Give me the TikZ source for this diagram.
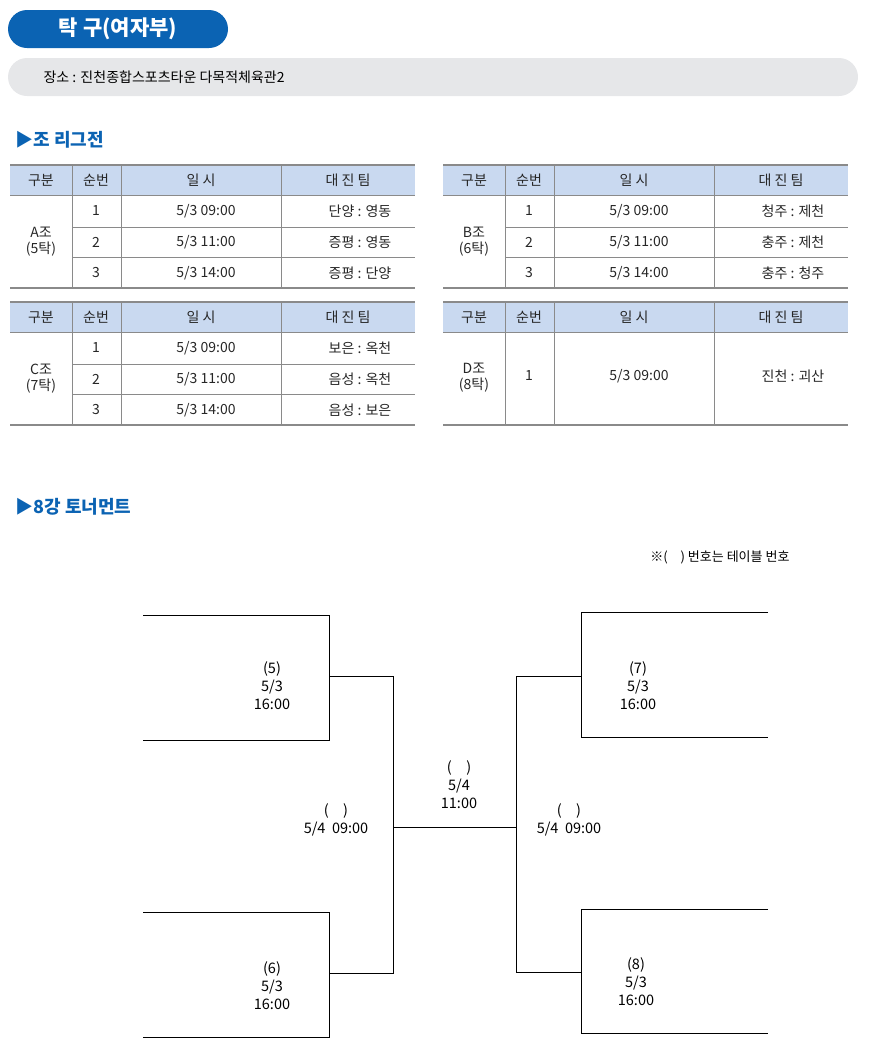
\documentclass[tikz,border=0pt]{standalone}
\usepackage{fontspec}
\setmainfont{Noto Sans CJK KR}
\definecolor{hblue}{HTML}{0B63B3}
\definecolor{hgrey}{HTML}{E6E7E9}
\definecolor{thead}{HTML}{C9D9F0}
\definecolor{tline}{HTML}{8A8A8A}
\begin{document}
\begin{tikzpicture}[x=1pt,y=-1pt,
  cell/.style={font=\fontsize{14}{16}\selectfont,text=black!85,align=center,inner sep=0},
  thin/.style={draw=tline,line width=0.6pt},
  thick/.style={draw=tline,line width=1.6pt},
  br/.style={draw=black,line width=0.8pt},
  lab/.style={font=\fontsize{14.5}{18}\selectfont,align=center,inner sep=0}]
\useasboundingbox (0,0) rectangle (872,1050);
\fill[hblue,rounded corners=19pt] (8,10) rectangle (228,48);
\node[font=\bfseries\fontsize{21}{24}\selectfont,text=white] (title) at (118,29) {탁 구(여자부)};
\fill[hgrey,rounded corners=19pt] (8,58) rectangle (858,96);
\node[anchor=west,font=\fontsize{14}{16}\selectfont] (place) at (40,77) {장소 : 진천종합스포츠타운 다목적체육관2};
\node[anchor=west,font=\bfseries\fontsize{18}{20}\selectfont,text=hblue] (h1) at (12,140) {▶조 리그전};
\node[anchor=west,font=\bfseries\fontsize{18}{20}\selectfont,text=hblue] (h2) at (12,507) {▶8강 토너먼트};
% table macro
\newcommand{\tbl}[7]{% x0, y0(header top), group, r1, r2, r3, cols... uses fixed widths
  \begin{scope}[shift={(#1,#2)}]
  \fill[thead] (0,0) rectangle (405,30);
  \draw[thick] (0,0) -- (405,0);
  \draw[thick] (0,123) -- (405,123);
  \draw[thin] (0,30) -- (405,30);
  \draw[thin] (62,62) -- (405,62) (62,92) -- (405,92);
  \draw[thin] (62,0) -- (62,123) (111,0) -- (111,123) (271,0) -- (271,123);
  \node[cell] at (31,15) {구분};
  \node[cell] at (86,15) {순번};
  \node[cell] at (191,15) {일 시};
  \node[cell] at (338,15) {대 진 팀};
  \node[cell] at (31,77) {#3};
  \node[cell] at (86,46) {1}; \node[cell] at (86,77) {2}; \node[cell] at (86,108) {3};
  \node[cell] at (196,46) {5/3 09:00}; \node[cell] at (196,77) {5/3 11:00}; \node[cell] at (196,108) {5/3 14:00};
  \node[cell] at (350,46) {#4}; \node[cell] at (350,77) {#5}; \node[cell] at (350,108) {#6};
  \end{scope}}
\tbl{10}{165}{A조\\(5탁)}{단양 : 영동}{증평 : 영동}{증평 : 단양}{}
\tbl{443}{165}{B조\\(6탁)}{청주 : 제천}{충주 : 제천}{충주 : 청주}{}
\tbl{10}{302}{C조\\(7탁)}{보은 : 옥천}{음성 : 옥천}{음성 : 보은}{}
\begin{scope}[shift={(443,302)}]
  \fill[thead] (0,0) rectangle (405,30);
  \draw[thick] (0,0) -- (405,0);
  \draw[thick] (0,123) -- (405,123);
  \draw[thin] (0,30) -- (405,30);
  \draw[thin] (62,0) -- (62,123) (111,0) -- (111,123) (271,0) -- (271,123);
  \node[cell] at (31,15) {구분};
  \node[cell] at (86,15) {순번};
  \node[cell] at (191,15) {일 시};
  \node[cell] at (338,15) {대 진 팀};
  \node[cell] at (31,76) {D조\\(8탁)};
  \node[cell] at (86,74) {1};
  \node[cell] at (196,74) {5/3 09:00};
  \node[cell] at (350,74) {진천 : 괴산};
\end{scope}
\node[anchor=east,font=\fontsize{13}{15}\selectfont] (note) at (793,557) {※(\quad) 번호는 테이블 번호};
% bracket
\coordinate (a1) at (143,615); \coordinate (a2) at (329,615); \coordinate (a3) at (329,740); \coordinate (a4) at (143,740);
\draw[br] (a1) -- (a2) -- (a3) -- (a4);
\coordinate (b1) at (143,912); \coordinate (b2) at (329,912); \coordinate (b3) at (329,1037); \coordinate (b4) at (143,1037);
\draw[br] (b1) -- (b2) -- (b3) -- (b4);
\coordinate (c1) at (768,612); \coordinate (c2) at (581,612); \coordinate (c3) at (581,737); \coordinate (c4) at (768,737);
\draw[br] (c1) -- (c2) -- (c3) -- (c4);
\coordinate (d1) at (768,909); \coordinate (d2) at (581,909); \coordinate (d3) at (581,1033); \coordinate (d4) at (768,1033);
\draw[br] (d1) -- (d2) -- (d3) -- (d4);
\coordinate (lA) at (329,676); \coordinate (lB) at (393,676); \coordinate (lC) at (393,973); \coordinate (lD) at (329,973);
\draw[br] (lA) -- (lB) -- (lC) -- (lD);
\coordinate (rA) at (581,676); \coordinate (rB) at (516,676); \coordinate (rC) at (516,972); \coordinate (rD) at (581,972);
\draw[br] (rA) -- (rB) -- (rC) -- (rD);
\coordinate (m1) at (393,827); \coordinate (m2) at (516,827);
\draw[br] (m1) -- (m2);
\node[lab] (t5) at (272,686) {(5)\\5/3\\16:00};
\node[lab] (t6) at (272,986) {(6)\\5/3\\16:00};
\node[lab] (t7) at (638,686) {(7)\\5/3\\16:00};
\node[lab] (t8) at (636,982) {(8)\\5/3\\16:00};
\node[lab] (sl) at (336,820) {(\quad)\\5/4\ \ 09:00};
\node[lab] (sr) at (569,820) {(\quad)\\5/4\ \ 09:00};
\node[lab] (f) at (459,785) {(\quad)\\5/4\\11:00};
\end{tikzpicture}
\end{document}
